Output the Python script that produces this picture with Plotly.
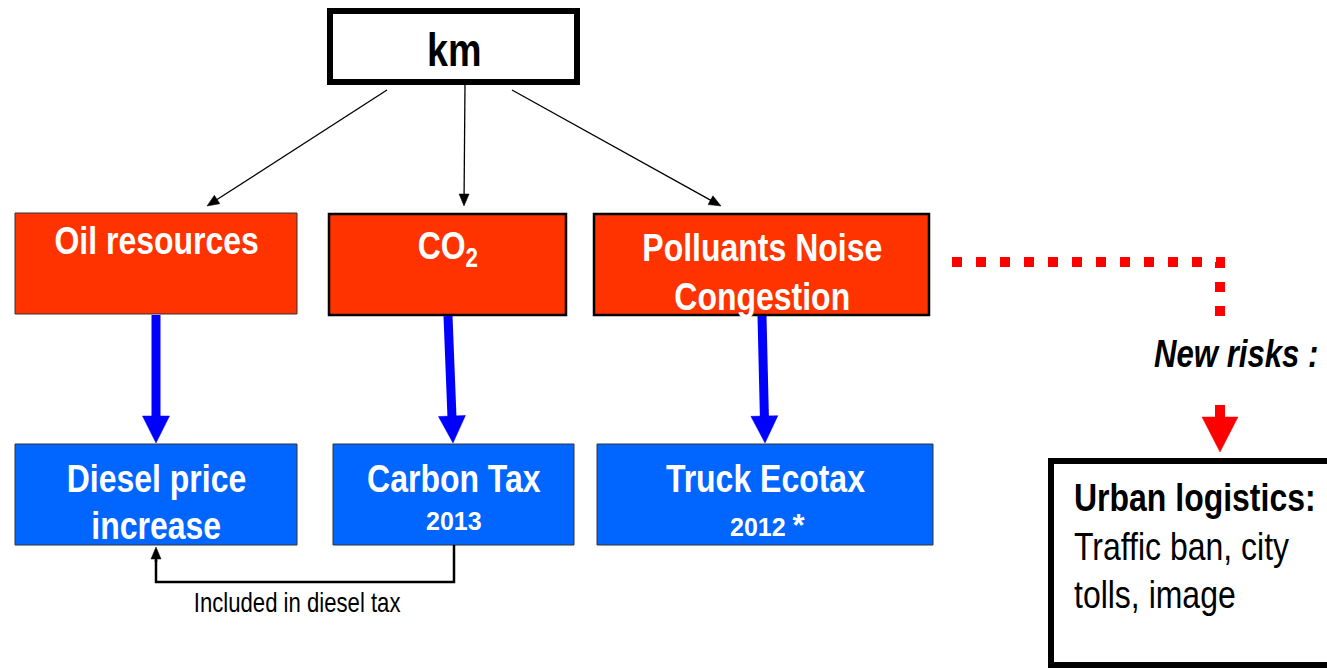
import plotly.graph_objects as go

# labels of the diagram
top_label = "km"
impact_labels = ["Oil resources", "CO<sub>2</sub>", "Polluants Noise<br>Congestion"]
measure_labels = ["Diesel price<br>increase", "Carbon Tax", "Truck Ecotax"]
measure_years = ["", "2013", "2012 <span style='font-size:31px'>*</span>"]
link_label = "Included in diesel tax"
risk_label = "New risks :"
urban_title = "Urban logistics:"
urban_lines = ["Traffic ban, city", "tolls, image"]

W, H = 1327, 669
FONT = "Liberation Sans, Arial, sans-serif"
RED = "#FF3300"
BLUE = "#0066FF"
ARROW_BLUE = "#0000FF"
NARROW = 0.82  # Arial Narrow look

# box geometry (pixels, y down)
top_box = (330, 11, 577, 82)
impact_boxes = [(15, 213, 297, 314), (329, 214, 566, 315), (594, 214, 929, 315)]
impact_border = [("#333333", 1), ("black", 2.5), ("black", 2.5)]
measure_boxes = [(15, 444, 297, 545), (333, 444, 574, 545), (597, 444, 933, 545)]
urban_box = (1051, 461, 1345, 665)

fig = go.Figure()
shapes = []
annotations = []
narrow_center = []
narrow_left = []


def rect(box, fill, color, width):
    x0, y0, x1, y1 = box
    shapes.append(dict(type="rect", x0=x0, y0=y0, x1=x1, y1=y1, xref="x", yref="y",
                       fillcolor=fill, line=dict(color=color, width=width), layer="above"))


def arrow(x0, y0, x1, y1, color, width, head_len, head_w):
    dx, dy = x1 - x0, y1 - y0
    n = (dx * dx + dy * dy) ** 0.5
    ux, uy = dx / n, dy / n
    bx, by = x1 - ux * head_len, y1 - uy * head_len
    shapes.append(dict(type="line", x0=x0, y0=y0, x1=bx + ux, y1=by + uy,
                       xref="x", yref="y", line=dict(color=color, width=width), layer="above"))
    px, py = -uy * head_w / 2, ux * head_w / 2
    path = f"M {x1},{y1} L {bx + px},{by + py} L {bx - px},{by - py} Z"
    shapes.append(dict(type="path", path=path, xref="x", yref="y",
                       fillcolor=color, line=dict(color=color, width=0.5), layer="above"))


def text(x, y, s, size, color="black", bold=False, italic=False, xanchor="center", narrow=True):
    if bold:
        s = f"<b>{s}</b>"
    if italic:
        s = f"<i>{s}</i>"
    if narrow:
        (narrow_left if xanchor == "left" else narrow_center).append(len(annotations))
    annotations.append(dict(x=x, y=y, xref="x", yref="y", text=s, showarrow=False,
                            xanchor=xanchor, yanchor="middle", align=xanchor,
                            font=dict(family=FONT, size=size, color=color)))


# top box
rect(top_box, "white", "black", 6)
text(454, 50, top_label, 46, bold=True)

# thin arrows from km
arrow(387, 90, 207, 206, "black", 1.3, 12, 10)
arrow(465, 84, 464, 206, "black", 1.3, 12, 10)
arrow(512, 90, 721, 206, "black", 1.3, 12, 10)

# impact boxes
for box, (bc, bw) in zip(impact_boxes, impact_border):
    rect(box, RED, bc, bw)
text(156, 240, impact_labels[0], 39, "white", bold=True)
text(448, 248, impact_labels[1], 39, "white", bold=True)
l1, l2 = impact_labels[2].split("<br>")
text(762, 247, l1, 39, "white", bold=True)
text(762, 296, l2, 39, "white", bold=True)

# blue arrows
arrow(156, 315, 156, 443, ARROW_BLUE, 9, 27, 27)
arrow(448, 316, 453, 443, ARROW_BLUE, 9, 27, 27)
arrow(762, 316, 765, 443, ARROW_BLUE, 9, 27, 27)

# measure boxes
for box in measure_boxes:
    rect(box, BLUE, "#333333", 1)
l1, l2 = measure_labels[0].split("<br>")
text(156, 478, l1, 39, "white", bold=True)
text(156, 525, l2, 39, "white", bold=True)
text(454, 478, measure_labels[1], 39, "white", bold=True)
text(454, 521, measure_years[1], 25, "white", bold=True, narrow=False)
text(765, 478, measure_labels[2], 39, "white", bold=True)
text(768, 525, measure_years[2], 25, "white", bold=True, narrow=False)

# link Carbon Tax -> Diesel
shapes.append(dict(type="path", path="M 454,545 L 454,582 L 156,582 L 156,560",
                   xref="x", yref="y", line=dict(color="black", width=2.5), layer="above"))
arrow(156, 562, 156, 547, "black", 2.5, 12, 10)
text(297, 603, link_label, 27)

# red dotted path to new risks
shapes.append(dict(type="path", path="M 952,262 L 1220,262 L 1220,321",
                   xref="x", yref="y", line=dict(color="#FF0000", width=10, dash="10px,14px"),
                   layer="above"))
text(1152, 354, risk_label, 38, bold=True, italic=True, xanchor="left")
arrow(1220, 405, 1220, 452, "#FF0000", 10, 35, 36)

# urban logistics box
rect(urban_box, "white", "black", 6)
text(1072, 497, urban_title, 39, bold=True, xanchor="left")
text(1072, 546, urban_lines[0], 39, xanchor="left")
text(1072, 594, urban_lines[1], 39, xanchor="left")

fig.update_layout(
    width=W, height=H,
    margin=dict(l=0, r=0, t=0, b=0),
    paper_bgcolor="white", plot_bgcolor="white",
    xaxis=dict(range=[0, W], visible=False, fixedrange=True),
    yaxis=dict(range=[H, 0], visible=False, fixedrange=True),
    shapes=shapes, annotations=annotations,
    showlegend=False,
)

# condensed lettering: squeeze the annotation texts horizontally
css = "body{margin:0;overflow:hidden}"
for i in narrow_center:
    css += (f'.annotation[data-index="{i}"] text.annotation-text'
            f'{{transform-box:fill-box;transform-origin:50% 50%;transform:scaleX({NARROW})}}')
for i in narrow_left:
    css += (f'.annotation[data-index="{i}"] text.annotation-text'
            f'{{transform-box:fill-box;transform-origin:0% 50%;transform:scaleX({NARROW})}}')
js = ("var s=document.createElement('style');s.textContent='" + css.replace("'", "\\'") +
      "';document.head.appendChild(s);")

fig.write_html("out.html", post_script=js, config={"displayModeBar": False})
